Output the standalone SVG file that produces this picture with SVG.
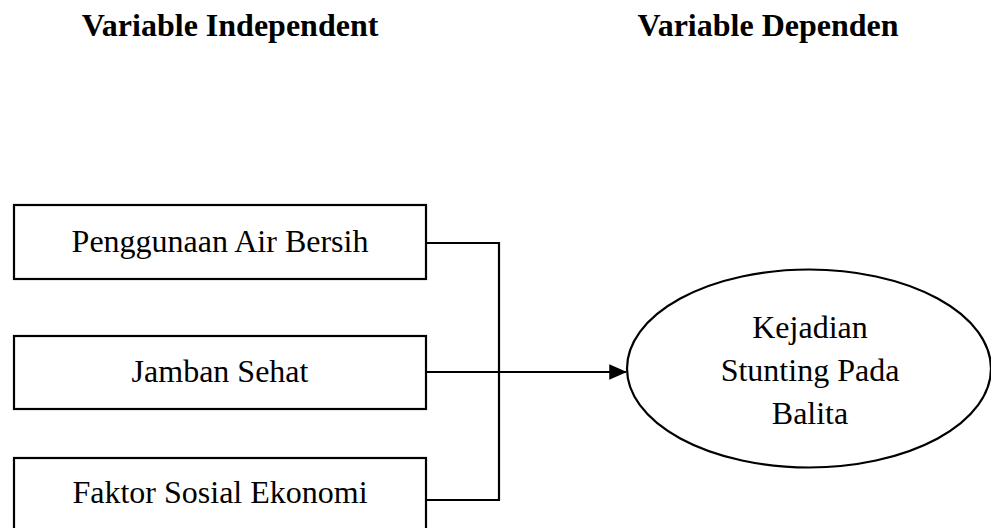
<svg xmlns="http://www.w3.org/2000/svg" width="991" height="528" viewBox="0 0 991 528">
<style>
.box{fill:#fff;stroke:#000;stroke-width:2.2}
.t{font-family:"Liberation Serif","Times New Roman",serif;font-size:32px;fill:#000;text-anchor:middle}
.h{font-family:"Liberation Serif","Times New Roman",serif;font-size:32px;font-weight:bold;fill:#000;text-anchor:middle}
.c{fill:none;stroke:#000;stroke-width:2.2}
</style>
<defs>
<marker id="arr" markerWidth="8" markerHeight="7" refX="7.6" refY="3.5" orient="auto" markerUnits="strokeWidth">
<path d="M0,0 L8,3.5 L0,7 z" fill="#000"/>
</marker>
</defs>
<rect width="991" height="528" fill="#fff"/>
<g id="headers">
<text class="h" x="230" y="36">Variable Independent</text>
<text class="h" x="768" y="36">Variable Dependen</text>
</g>
<g id="n1">
<rect class="box" x="14" y="205" width="412" height="74"/>
<text class="t" x="220" y="252">Penggunaan Air Bersih</text>
</g>
<g id="n2">
<rect class="box" x="14" y="336" width="412" height="73"/>
<text class="t" x="220" y="382">Jamban Sehat</text>
</g>
<g id="n3">
<rect class="box" x="14" y="458" width="412" height="80"/>
<text class="t" x="220" y="503">Faktor Sosial Ekonomi</text>
</g>
<g id="n4">
<ellipse class="box" cx="809" cy="368.5" rx="182" ry="99"/>
<text class="t" x="810" y="338">Kejadian</text>
<text class="t" x="810" y="381">Stunting Pada</text>
<text class="t" x="810" y="424">Balita</text>
</g>
<g id="connectors">
<path class="c" d="M426,243 H499 V500 H426"/>
<path class="c" d="M426,372 H626" marker-end="url(#arr)"/>
</g>
</svg>
